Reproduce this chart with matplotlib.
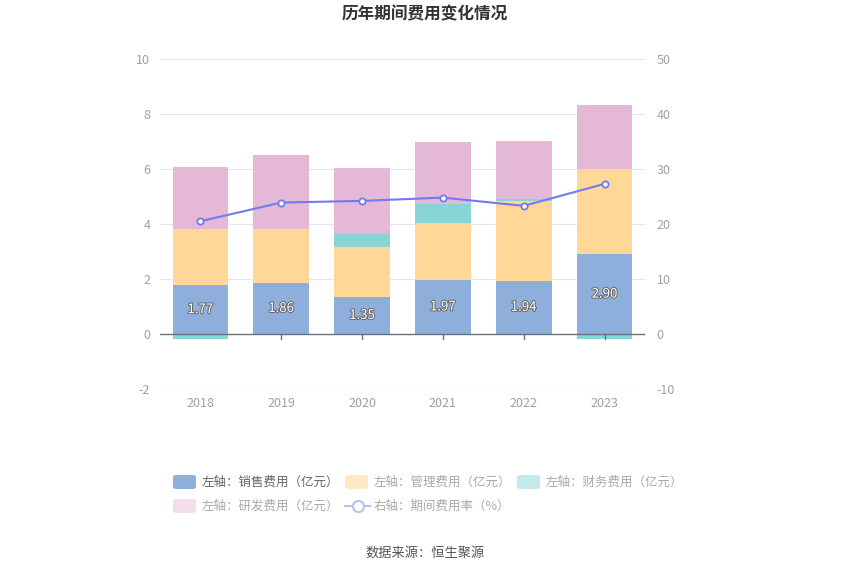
import matplotlib
matplotlib.use("Agg")
import matplotlib.pyplot as plt
import matplotlib.patheffects as pe
from matplotlib.patches import FancyBboxPatch
from matplotlib.lines import Line2D
import numpy as np

plt.rcParams['font.family'] = ['Noto Sans CJK SC', 'DejaVu Sans']
plt.rcParams['axes.unicode_minus'] = False

years = ["2018", "2019", "2020", "2021", "2022", "2023"]
sales = [1.77, 1.86, 1.35, 1.97, 1.94, 2.90]
admin = [2.05, 1.95, 1.80, 2.07, 2.91, 3.10]
finance = [-0.17, 0.00, 0.49, 0.70, 0.05, -0.18]
rnd = [2.25, 2.71, 2.40, 2.23, 2.12, 2.32]
rate = [20.5, 23.9, 24.2, 24.8, 23.3, 27.3]

left_ticks = [-2, 0, 2, 4, 6, 8, 10]
right_ticks = [-10, 0, 10, 20, 30, 40, 50]

c_sales = "#8eaedb"
c_admin = "#ffd898"
c_fin = "#86d5d8"
c_rnd = "#e6b8d8"
c_line = "#717af0"

fig = plt.figure(figsize=(8.5, 5.75), dpi=100)
ax = fig.add_axes([160/850, 1-389/575, 485/850, 330/575])
ax2 = ax.twinx()

x = np.arange(len(years))
w = 0.69
sales_a = np.array(sales)
admin_a = np.array(admin)
fin_a = np.array(finance)
rnd_a = np.array(rnd)

ax.bar(x, sales_a, w, color=c_sales, zorder=3)
ax.bar(x, admin_a, w, bottom=sales_a, color=c_admin, zorder=3)
fin_pos = np.where(fin_a > 0, fin_a, 0)
fin_neg = np.where(fin_a < 0, fin_a, 0)
ax.bar(x, fin_pos, w, bottom=sales_a + admin_a, color=c_fin, zorder=3)
ax.bar(x, fin_neg, w, bottom=0, color=c_fin, zorder=3)
ax.bar(x, rnd_a, w, bottom=sales_a + admin_a + fin_pos, color=c_rnd, zorder=3)

for xi, s in zip(x, sales):
    ax.text(xi, s / 2, f"{s:.2f}", ha="center", va="center", color="white",
            fontsize=9.5, zorder=5,
            path_effects=[pe.withStroke(linewidth=1.4, foreground="#666666")])

ax.set_ylim(-2, 10)
ax.set_yticks(left_ticks)
ax.set_xlim(-0.5, len(years) - 0.5)
ax.set_xticks(x)
ax.set_xticklabels(years)
ax.grid(axis="y", color="#e0e6f1", linewidth=0.8, zorder=0)
ax.set_axisbelow(True)
ax.axhline(0, color="#6e7079", linewidth=1, zorder=4)
for xi in x[1:]:
    ax.plot([xi, xi], [0, -0.18], color="#6e7079", linewidth=1, zorder=4, clip_on=False)

ax2.plot(x, rate, color=c_line, linewidth=1.5, marker="o", markersize=4.5,
         markerfacecolor="white", markeredgecolor=c_line, markeredgewidth=1.3, zorder=6)
ax2.set_ylim(-10, 50)
ax2.set_yticks(right_ticks)

for a in (ax, ax2):
    for sp in a.spines.values():
        sp.set_visible(False)
    a.tick_params(length=0, colors="#a0a0a0", labelsize=9)
ax.tick_params(axis="y", pad=7)
ax2.tick_params(axis="y", pad=8.5)
ax.tick_params(axis="x", pad=6)

fig.text(0.5, 1-14/575, "历年期间费用变化情况", ha="center", va="center",
         fontsize=12, fontweight="bold", color="#333333")
fig.text(0.5, 1-553/575, "数据来源：恒生聚源", ha="center", va="center",
         fontsize=9.5, color="#555555")

legend_items = [
    (173, 482, "patch", c_sales, "左轴：销售费用（亿元）", "#666666"),
    (345, 482, "patch", "#ffe8c4", "左轴：管理费用（亿元）", "#aaaaaa"),
    (517, 482, "patch", "#c3e9ec", "左轴：财务费用（亿元）", "#aaaaaa"),
    (173, 506, "patch", "#f4dcec", "左轴：研发费用（亿元）", "#aaaaaa"),
    (345, 506, "line", "#b9bdf8", "右轴：期间费用率（%）", "#aaaaaa"),
]
for px, py, kind, col, label, tcol in legend_items:
    if kind == "patch":
        fig.add_artist(FancyBboxPatch((px/850, 1-(py+7)/575), 23/850, 14/575,
                                      boxstyle="round,pad=0,rounding_size=0.004",
                                      transform=fig.transFigure, color=col, linewidth=0))
    else:
        fig.add_artist(Line2D([px/850, (px+25)/850], [1-py/575, 1-py/575],
                              transform=fig.transFigure, color=col, linewidth=1.5))
        fig.add_artist(Line2D([(px+12.5)/850], [1-py/575], transform=fig.transFigure,
                              marker="o", markersize=8, markerfacecolor="white",
                              markeredgecolor=col, markeredgewidth=1.5))
    fig.text((px+29)/850, 1-py/575, label, ha="left", va="center", fontsize=9, color=tcol)

fig.savefig("out.png", dpi=100)
